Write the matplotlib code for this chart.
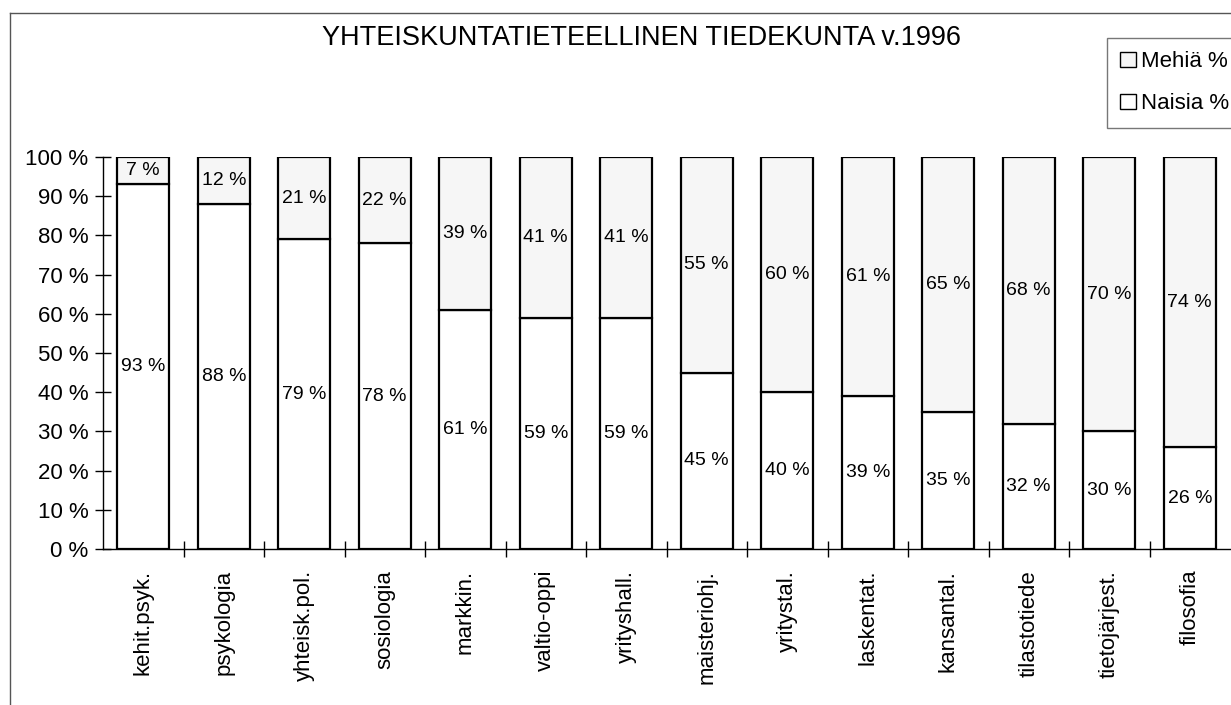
import matplotlib
matplotlib.use("Agg")
import matplotlib.pyplot as plt
from matplotlib.patches import Patch
from matplotlib.lines import Line2D
import numpy as np

plt.rcParams['font.family'] = ['Liberation Sans', 'DejaVu Sans']

# data
categories = ["kehit.psyk.", "psykologia", "yhteisk.pol.", "sosiologia",
              "markkin.", "valtio-oppi", "yrityshall.", "maisteriohj.",
              "yritystal.", "laskentat.", "kansantal.", "tilastotiede",
              "tietojärjest.", "filosofia"]
naisia = [93, 88, 79, 78, 61, 59, 59, 45, 40, 39, 35, 32, 30, 26]
mehia = [7, 12, 21, 22, 39, 41, 41, 55, 60, 61, 65, 68, 70, 74]

W, H = 1231, 705
fig = plt.figure(figsize=(W / 100, H / 100), dpi=100)
ax = fig.add_axes([103 / W, (H - 549) / H, (1230 - 103) / W, (549 - 157) / H])

x = np.arange(len(categories))
bw = 0.64
ax.bar(x, naisia, width=bw, color='white', edgecolor='black', linewidth=1.6)
ax.bar(x, mehia, width=bw, bottom=naisia, color='#f6f6f6',
       edgecolor='black', linewidth=1.6)

# percentage labels inside the segments
for i in range(len(categories)):
    ax.text(x[i], naisia[i] / 2, f"{naisia[i]} %", ha='center', va='center',
            fontsize=14)
    ax.text(x[i], naisia[i] + mehia[i] / 2, f"{mehia[i]} %", ha='center',
            va='center', fontsize=14)

ax.set_xlim(-0.5, len(categories) - 0.5)
ax.set_ylim(0, 100)
ax.set_yticks(range(0, 101, 10))
ax.set_yticklabels([f"{v} %" for v in range(0, 101, 10)], fontsize=16)
ax.tick_params(axis='y', direction='inout', length=11, width=1, pad=5)

ax.set_xticks(x)
ax.set_xticklabels(categories, rotation=90, fontsize=16)
ax.tick_params(axis='x', which='major', length=0, pad=15)
ax.set_xticks(x[:-1] + 0.5, minor=True)
ax.tick_params(axis='x', which='minor', direction='inout', length=11, width=1)

for s in ['top', 'right']:
    ax.spines[s].set_visible(False)
ax.spines['left'].set_linewidth(1)
ax.spines['bottom'].set_linewidth(1)

fig.text(641 / W, 1 - 38 / H, "YHTEISKUNTATIETEELLINEN TIEDEKUNTA v.1996",
         ha='center', va='center', fontsize=19.5)

# outer frame (top and left edges visible in the scan)
fig.add_artist(Line2D([10 / W, 1], [1 - 13 / H, 1 - 13 / H], color='#555555', lw=1))
fig.add_artist(Line2D([10 / W, 10 / W], [0, 1 - 13 / H], color='#555555', lw=1))

handles = [Patch(facecolor='#f6f6f6', edgecolor='black', label='Mehiä %'),
           Patch(facecolor='white', edgecolor='black', label='Naisia %')]
leg = fig.legend(handles=handles, loc='upper left',
                 bbox_to_anchor=(1107 / W, 1 - 38 / H), fontsize=16,
                 frameon=True, fancybox=False, handlelength=0.7,
                 handleheight=0.7, handletextpad=0.25, labelspacing=0.95,
                 borderpad=0.6, borderaxespad=0)
leg.get_frame().set_edgecolor('#555555')
leg.get_frame().set_linewidth(1)

fig.savefig("out.png", dpi=100)
